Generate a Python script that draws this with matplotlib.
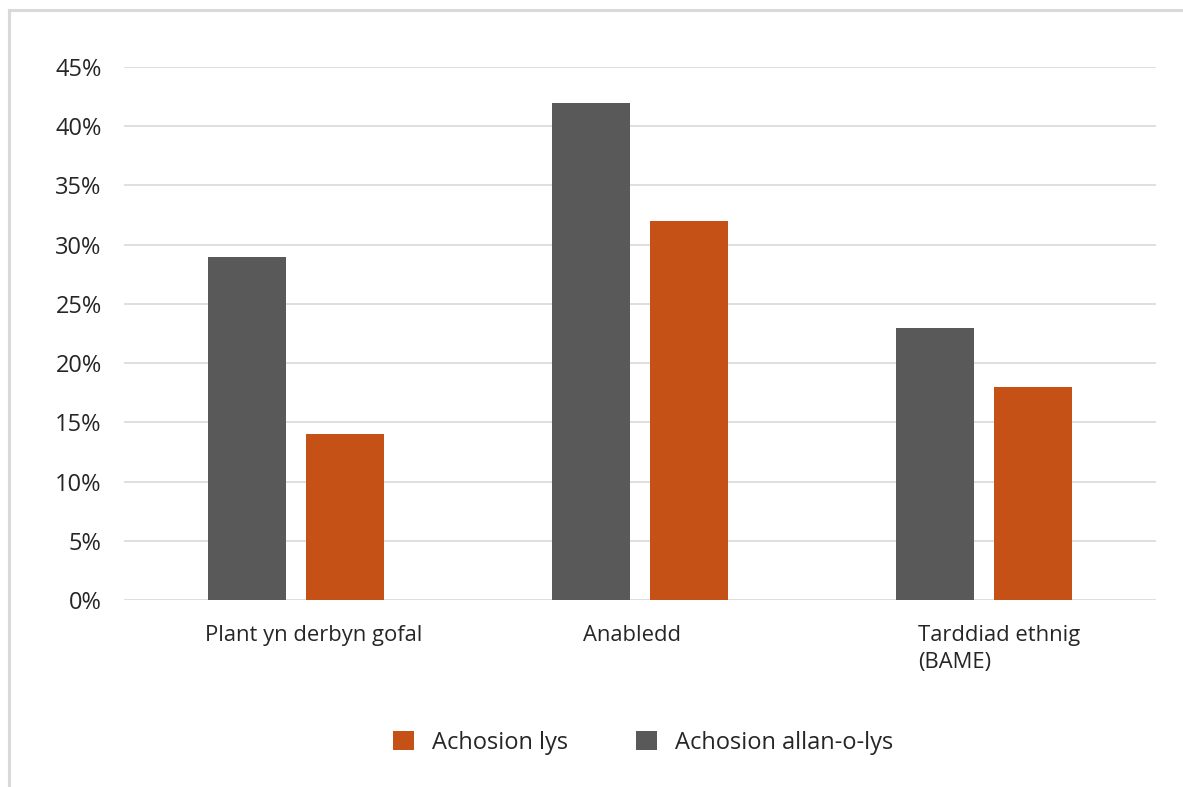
import matplotlib
matplotlib.use("Agg")
import matplotlib.pyplot as plt
from matplotlib.lines import Line2D
from matplotlib.patches import Patch
from matplotlib.transforms import ScaledTranslation
import numpy as np

categories = ["Plant yn derbyn gofal", "Anabledd", "Tarddiad ethnig\n(BAME)"]
series_names = ["Achosion allan-o-lys", "Achosion lys"]
allan_o_lys = [29, 42, 23]
lys = [14, 32, 18]
yticks = [0, 5, 10, 15, 20, 25, 30, 35, 40, 45]
ytick_labels = [f"{v}%" for v in yticks]

GRAY = "#595959"
ORANGE = "#C55116"
GRID = "#D9D9D9"
TEXT = "#262626"

plt.rcParams['font.family'] = ['Open Sans', 'DejaVu Sans']

W, H = 1183, 787
fig = plt.figure(figsize=(W / 100, H / 100), dpi=100)
fig.patch.set_facecolor("white")

ax = fig.add_axes([124 / W, 1 - 600 / H, (1156 - 124) / W, (600 - 67) / H])
x = np.arange(len(categories))
bw = 0.224
off = 0.1425
ax.bar(x - off, allan_o_lys, bw, color=GRAY, zorder=3)
ax.bar(x + off, lys, bw, color=ORANGE, zorder=3)

ax.set_xlim(-0.5, len(categories) - 0.5)
ax.set_ylim(0, 45)
ax.set_yticks(yticks)
ax.set_yticklabels(ytick_labels)
ax.set_xticks(x)
ax.set_xticklabels(categories, multialignment='left', linespacing=1.4)
ax.tick_params(axis='both', length=0, colors=TEXT)
ax.tick_params(axis='y', pad=16, labelsize=17)
ax.tick_params(axis='x', pad=18, labelsize=15.8)
ax.grid(axis='y', color=GRID, linewidth=1.2, zorder=0)
for s in ax.spines.values():
    s.set_visible(False)

# small horizontal nudges of category labels (pixels)
for lbl, dx in zip(ax.get_xticklabels(), [18, -8, 15]):
    lbl.set_transform(lbl.get_transform() + ScaledTranslation(dx / 100, 0, fig.dpi_scale_trans))

handles = [Patch(facecolor=ORANGE, label=series_names[1]),
           Patch(facecolor=GRAY, label=series_names[0])]
fig.legend(handles=handles, loc='center', bbox_to_anchor=(643 / W, 1 - 743 / H),
           ncol=2, frameon=False, fontsize=17, handlelength=0.88, handleheight=0.88,
           columnspacing=2.9, handletextpad=0.75, labelcolor=TEXT)

# chart border (left and top edges visible)
fig.add_artist(Line2D([9 / W, 9 / W], [0, 1 - 9.5 / H], color=GRID, linewidth=2.2,
                      transform=fig.transFigure))
fig.add_artist(Line2D([9 / W, 1], [1 - 9.5 / H, 1 - 9.5 / H], color=GRID, linewidth=2.2,
                      transform=fig.transFigure))

fig.savefig("out.png", dpi=100, facecolor="white")
